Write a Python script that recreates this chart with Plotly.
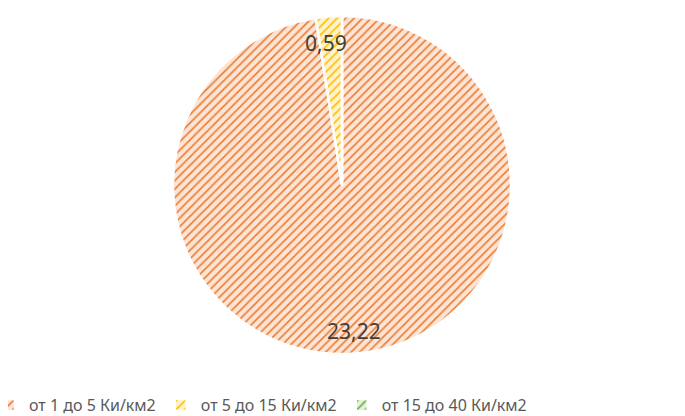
import plotly.graph_objects as go

labels = ["от 1 до 5 Ки/км2", "от 5 до 15 Ки/км2", "от 15 до 40 Ки/км2"]
values = [23.22, 0.59, 0.0]
fg_colors = ["#ED7D31", "#FFC000", "#70AD47"]
bg_colors = ["#FCE4D6", "#FFF2CC", "#E2EFDA"]

W, H_FIG, B = 685, 416, 36
H = H_FIG - B          # plot-area height
OFF = 8                # page body margin

def px_x(x):
    return (x - OFF) / W

def px_y(y):
    return 1 - (y - OFF) / H

fig = go.Figure()
fig.add_trace(go.Pie(
    labels=labels, values=values, sort=False, direction="clockwise", rotation=0,
    textinfo="none", hoverinfo="label+value",
    marker=dict(colors=bg_colors,
                line=dict(color="white", width=2.5),
                pattern=dict(shape="/", fgcolor=fg_colors, bgcolor=bg_colors,
                             size=6, solidity=0.27)),
    domain=dict(x=[px_x(173), px_x(511)], y=[px_y(354), px_y(16)]),
    showlegend=True,
))

def fmt(v):
    return f"{v:.2f}".replace(".", ",")

label_pos = [(354, 331), (326, 43)]
for v, (lx, ly) in zip(values[:2], label_pos):
    fig.add_annotation(x=px_x(lx), y=px_y(ly), xref="paper", yref="paper",
                       xanchor="center", yanchor="middle",
                       text=fmt(v), showarrow=False,
                       font=dict(family="Noto Sans", size=21, color="#404040"))

fig.update_layout(
    width=W, height=H_FIG,
    margin=dict(l=0, r=0, t=0, b=B, autoexpand=False),
    paper_bgcolor="white", plot_bgcolor="white",
    separators=",.",
    legend=dict(orientation="h", x=-19/W, xanchor="left", y=0.0, yanchor="top",
                font=dict(family="Noto Sans", size=16, color="#595959"),
                itemclick=False),
)
fig.write_html("out.html")
